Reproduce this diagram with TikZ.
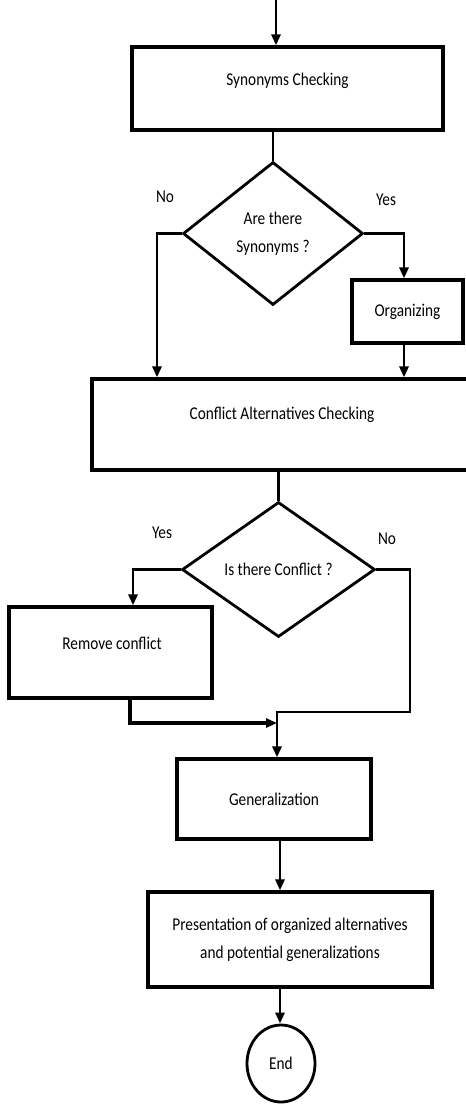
\documentclass[tikz,border=0pt]{standalone}
\usepackage{fontspec}
\setmainfont{Carlito}[FakeStretch=0.85]
\usetikzlibrary{arrows.meta,shapes.geometric}
\begin{document}
\begin{tikzpicture}[x=1pt,y=-1pt,
  font=\fontsize{18}{28}\selectfont,
  box/.style={draw,line width=3.2pt,rectangle,inner sep=0pt,align=center},
  dec/.style={draw,line width=2.8pt,diamond,inner sep=0pt,align=center},
  term/.style={draw,line width=2.8pt,ellipse,inner sep=0pt},
  conn/.style={line width=2.2pt},
  arr/.style={line width=2.8pt,-{Triangle[length=11pt,width=9pt]}},
  lbl/.style={inner sep=0pt}]
\useasboundingbox (0,0) rectangle (466,1104);
\clip (0,0) rectangle (466,1104);
\fill[white] (0,0) rectangle (466,1104);

% nodes
\node[box,minimum width=311pt,minimum height=83pt,
  label={[yshift=8pt]center:Synonyms Checking}] (syn) at (287.5,88.5) {};
\node[dec,minimum width=180pt,minimum height=143pt,aspect=1.26] (q1) at (273,233.5) {Are there\\Synonyms ?};
\node[box,minimum width=111pt,minimum height=63pt] (org) at (407.5,311.5) {Organizing};
\node[box,minimum width=390pt,minimum height=91pt,
  label={[xshift=-5pt,yshift=10pt]center:Conflict Alternatives Checking}] (conf) at (287,424.5) {};
\node[dec,minimum width=193pt,minimum height=135pt,aspect=1.43] (q2) at (278.5,569.5) {Is there Conflict ?};
\node[box,minimum width=203pt,minimum height=91pt,
  label={[xshift=1.5pt,yshift=9.5pt]center:Remove conflict}] (rem) at (110.5,652.5) {};
\node[box,minimum width=194pt,minimum height=80pt] (gen) at (274,799) {Generalization};
\node[box,minimum width=284pt,minimum height=95pt] (pres) at (290,939.5) {Presentation of organized alternatives\\and potential generalizations};
\node[term,minimum width=68pt,minimum height=77pt] (end) at (281,1063.5) {End};

% labels
\node[lbl] (l1) at (165,197) {No};
\node[lbl] (l2) at (386,200) {Yes};
\node[lbl] (l3) at (162,533) {Yes};
\node[lbl] (l4) at (387,539) {No};

% helper coordinates
\coordinate (start) at (276,0);
\coordinate (nol) at (157,233.5);
\coordinate (yesr) at (404,233.5);
\coordinate (yl) at (133,569.5);
\coordinate (nr) at (410,569.5);
\coordinate (rb) at (130,723);
\coordinate (j1) at (277,723);
\coordinate (nb) at (410,712);
\coordinate (j2) at (277,712);
\coordinate (gx) at (280,0);

% connectors
\draw[arr] (start) -- (start |- syn.north);
\draw[conn] (q1.north |- syn.south) -- (q1.north);
\draw[arr] (q1.west) -- (nol) -- (nol |- conf.north);
\draw[arr] (q1.east) -- (yesr) -- (yesr |- org.north);
\draw[arr] (yesr |- org.south) -- (yesr |- conf.north);
\draw[conn] (q2.north |- conf.south) -- (q2.north);
\draw[arr] (q2.west) -- (yl) -- (yl |- rem.north);
\draw[arr,line width=3.2pt] (rb |- rem.south) -- (rb) -- (j1);
\draw[arr] (q2.east) -- (nr) -- (nb) -- (j2) -- (j2 |- gen.north);
\draw[arr] (gx |- gen.south) -- (gx |- pres.north);
\draw[arr] (gx |- pres.south) -- (gx |- end.north);
\end{tikzpicture}
\end{document}
